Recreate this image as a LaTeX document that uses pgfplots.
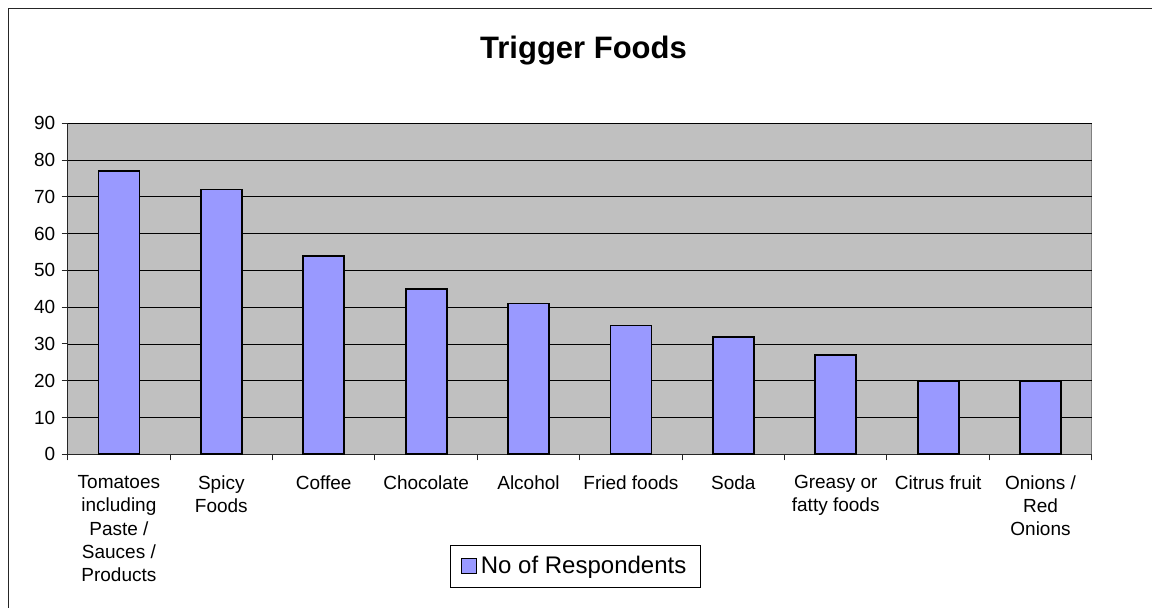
\documentclass[border=0pt]{standalone}
\usepackage{pgfplots}
\pgfplotsset{compat=1.18}
\usepackage{fontspec}
\setmainfont{Liberation Sans}
\definecolor{barblue}{HTML}{9999FF}
\definecolor{plotgray}{HTML}{C0C0C0}
\definecolor{framegray}{HTML}{808080}
\begin{document}
\begin{tikzpicture}[x=1pt,y=1pt]
\useasboundingbox (0,0) rectangle (1152,608);
\draw[line width=1pt, black!85] (8.5,-5) -- (8.5,599.5) -- (1160,599.5);
\node[font=\fontsize{31}{36}\selectfont\bfseries, anchor=base, inner sep=0pt] at (583.5,549) {Trigger Foods};
\begin{axis}[
  at={(67.7pt,153.7pt)}, anchor=south west,
  scale only axis, width=1024pt, height=331pt,
  xmin=-0.5, xmax=9.5, ymin=0, ymax=90,
  ytick={0,10,20,30,40,50,60,70,80,90},
  xtick={0,1,2,3,4,5,6,7,8,9},
  xticklabels={{Tomatoes\\including\\Paste /\\Sauces /\\Products},{Spicy\\Foods},{Coffee},{Chocolate},{Alcohol},{Fried foods},{Soda},{Greasy or\\fatty foods},{Citrus fruit},{Onions /\\Red\\Onions}},
  minor xtick={-0.5,0.5,1.5,2.5,3.5,4.5,5.5,6.5,7.5,8.5,9.5},
  major x tick style={draw=none},
  tick align=outside,
  major tick length=6pt,
  minor tick length=6pt,
  axis x line*=bottom, axis y line*=left,
  axis line style={-, black!85, line width=1pt},
  every tick/.style={black!85, line width=1pt},
  axis background/.style={fill=plotgray, draw=framegray, line width=1pt},
  ymajorgrids,
  major grid style={black, line width=0.9pt},
  /pgf/number format/assume math mode=true,
  tick label style={font=\fontsize{19}{23.3}\selectfont},
  yticklabel style={xshift=-3pt},
  xticklabel style={align=center, anchor=north, yshift=-11.5pt},
  legend style={at={(0.496,-0.3375)}, anchor=center, draw=black, line width=0.8pt,
    font=\fontsize{24}{28}\selectfont, inner xsep=11pt, inner ysep=9.5pt,
    nodes={inner xsep=3.5pt}},
  legend image code/.code={\draw[#1, line width=1pt] (0pt,-7.5pt) rectangle (15pt,7.5pt);},
]
\addplot[ybar, bar width=41pt, fill=barblue, draw=black, line width=1.8pt]
  coordinates {(0,77) (1,72) (2,54) (3,45) (4,41) (5,35) (6,32) (7,27) (8,20) (9,20)};
\addlegendentry{No of Respondents}
\end{axis}
\end{tikzpicture}
\end{document}
